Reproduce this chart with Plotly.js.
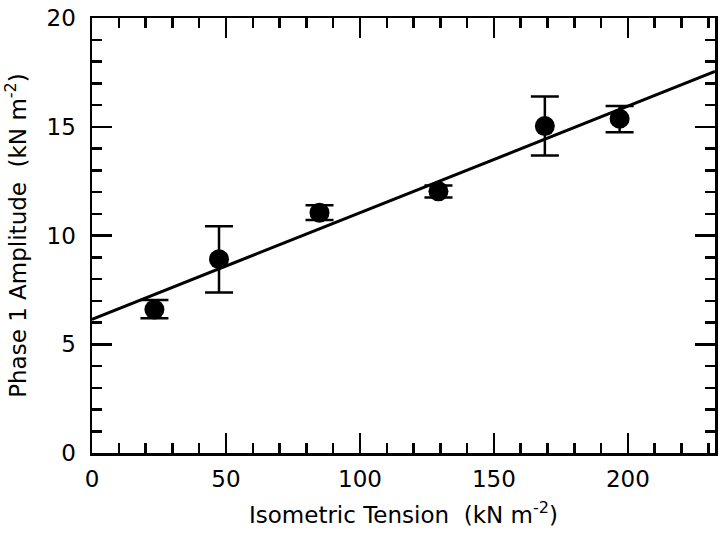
<!DOCTYPE html>
<html>
<head>
<meta charset="utf-8">
<script src="https://cdn.plot.ly/plotly-3.0.1.min.js"></script>
<style>html,body{margin:0;padding:0;background:#fff;}#chart{width:720px;height:535px;}</style>
</head>
<body>
<div id="chart"></div>
<script>
// Data
var tension = [23.3, 47.4, 84.9, 129.3, 169.0, 196.9];
var amplitude = [6.60, 8.91, 11.05, 12.03, 15.03, 15.37];
var errPlus = [0.44, 1.51, 0.34, 0.27, 1.36, 0.58];
var errMinus = [0.40, 1.53, 0.34, 0.28, 1.35, 0.62];
var fitX = [0, 232.5];
var fitY = [6.15, 17.54];

var font = {family: 'DejaVu Sans, Liberation Sans, Arial, sans-serif', color: '#000'};

var traces = [
  {
    x: fitX, y: fitY, mode: 'lines', type: 'scatter',
    line: {color: '#000', width: 3}, hoverinfo: 'skip'
  },
  {
    x: tension, y: amplitude, mode: 'markers', type: 'scatter',
    marker: {color: '#000', size: 20},
    error_y: {type: 'data', symmetric: false, array: errPlus, arrayminus: errMinus,
      color: '#000', thickness: 2.5, width: 14}
  }
];

var axisCommon = {
  showgrid: false, zeroline: false, showline: true, linecolor: '#000', linewidth: 2.5,
  mirror: 'allticks', ticks: 'inside', ticklen: 20, tickwidth: 2.5, tickcolor: '#000',
  tickfont: Object.assign({size: 23}, font), automargin: false
};

var layout = {
  width: 720, height: 535,
  margin: {l: 92, r: 5, t: 18, b: 82},
  paper_bgcolor: '#fff', plot_bgcolor: '#fff',
  showlegend: false,
  xaxis: Object.assign({}, axisCommon, {
    range: [0, 232.5], tickmode: 'linear', tick0: 0, dtick: 50,
    ticklabelstandoff: 4,
    minor: {dtick: 10, ticks: 'inside', ticklen: 10, tickwidth: 2.5, tickcolor: '#000', showgrid: false},
    title: {text: 'Isometric Tension\u00a0\u00a0(kN m<sup>-2</sup>)', font: Object.assign({size: 23}, font), standoff: 16}
  }),
  yaxis: Object.assign({}, axisCommon, {
    range: [0, 20], tickmode: 'linear', tick0: 0, dtick: 5,
    ticklabelstandoff: 9,
    minor: {dtick: 1, ticks: 'inside', ticklen: 10, tickwidth: 2.5, tickcolor: '#000', showgrid: false},
    title: {text: 'Phase 1 Amplitude\u00a0\u00a0(kN m<sup>-2</sup>)', font: Object.assign({size: 23}, font), standoff: 14}
  })
};

Plotly.newPlot('chart', traces, layout, {displayModeBar: false, staticPlot: true});
</script>
</body>
</html>
